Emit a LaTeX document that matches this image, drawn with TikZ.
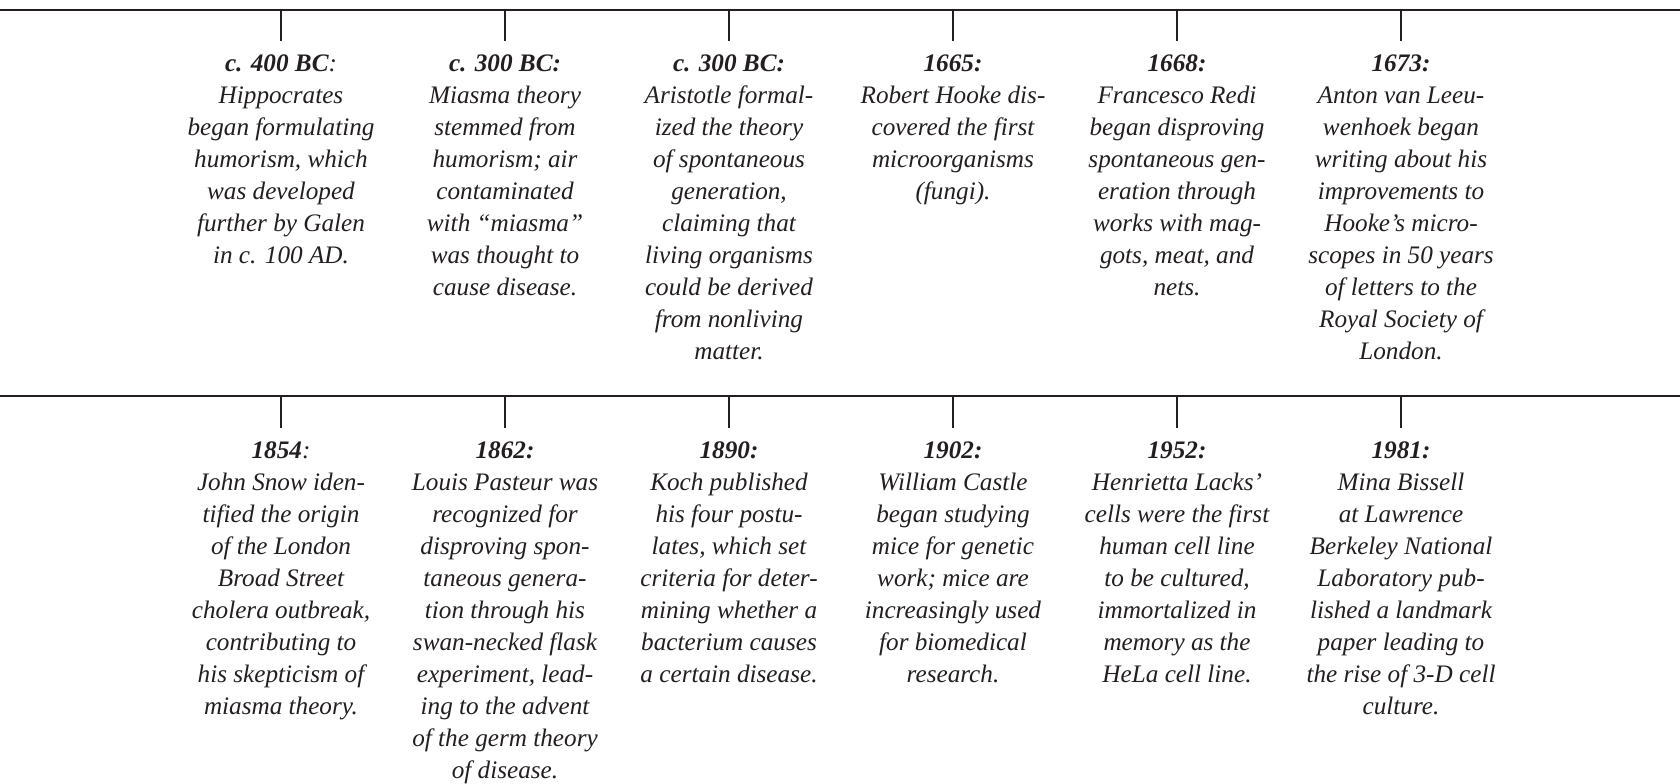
\documentclass[tikz,border=0pt]{standalone}
\usepackage{fontspec}
\setmainfont{Liberation Serif}
\definecolor{ink}{HTML}{231F20}
\newcommand{\toprule}{\rule{0pt}{9pt}}
\begin{document}
\begin{tikzpicture}[x=0.5pt,y=-0.5pt,
  rule/.style={draw=ink,line width=1.3pt},
  event/.style={anchor=north,align=center,inner sep=0pt,text=ink,
    font=\fontsize{12.6pt}{16pt}\selectfont\itshape}]
\useasboundingbox (0,0) rectangle (1680,783);
% timeline rules
\coordinate (L1) at (0,10);  \coordinate (R1) at (1680,10);
\coordinate (L2) at (0,396); \coordinate (R2) at (1680,396);
\draw[rule] (L1) -- (R1);
\draw[rule] (L2) -- (R2);
% top row (north anchor = baseline of first line minus 9pt)
\node[event] (a1) at (281,53) {\toprule\textbf{c. 400 BC}:\\Hippocrates\\began formulating\\humorism, which\\was developed\\further by Galen\\in c. 100 AD.};
\node[event] (a2) at (505,53) {\toprule\textbf{c. 300 BC:}\\Miasma theory\\stemmed from\\humorism; air\\contaminated\\with “miasma”\\was thought to\\cause disease.};
\node[event] (a3) at (729,53) {\toprule\textbf{c. 300 BC:}\\Aristotle formal-\\ized the theory\\of spontaneous\\generation,\\claiming that\\living organisms\\could be derived\\from nonliving\\matter.};
\node[event] (a4) at (953,53) {\toprule\textbf{1665:}\\Robert Hooke dis-\\covered the first\\microorganisms\\(fungi).};
\node[event] (a5) at (1177,53) {\toprule\textbf{1668:}\\Francesco Redi\\began disproving\\spontaneous gen-\\eration through\\works with mag-\\gots, meat, and\\nets.};
\node[event] (a6) at (1401,53) {\toprule\textbf{1673:}\\Anton van Leeu-\\wenhoek began\\writing about his\\improvements to\\Hooke’s micro-\\scopes in 50 years\\of letters to the\\Royal Society of\\London.};
% bottom row
\node[event] (b1) at (281,440) {\toprule\textbf{1854}:\\John Snow iden-\\tified the origin\\of the London\\Broad Street\\cholera outbreak,\\contributing to\\his skepticism of\\miasma theory.};
\node[event] (b2) at (505,440) {\toprule\textbf{1862:}\\Louis Pasteur was\\recognized for\\disproving spon-\\taneous genera-\\tion through his\\swan-necked flask\\experiment, lead-\\ing to the advent\\of the germ theory\\of disease.};
\node[event] (b3) at (729,440) {\toprule\textbf{1890:}\\Koch published\\his four postu-\\lates, which set\\criteria for deter-\\mining whether a\\bacterium causes\\a certain disease.};
\node[event] (b4) at (953,440) {\toprule\textbf{1902:}\\William Castle\\began studying\\mice for genetic\\work; mice are\\increasingly used\\for biomedical\\research.};
\node[event] (b5) at (1177,440) {\toprule\textbf{1952:}\\Henrietta Lacks’\\cells were the first\\human cell line\\to be cultured,\\immortalized in\\memory as the\\HeLa cell line.};
\node[event] (b6) at (1401,440) {\toprule\textbf{1981:}\\Mina Bissell\\at Lawrence\\Berkeley National\\Laboratory pub-\\lished a landmark\\paper leading to\\the rise of 3-D cell\\culture.};
% ticks
\foreach \n/\x in {1/281,2/505,3/729,4/953,5/1177,6/1401}{
  \coordinate (ta\n) at (\x,10);  \coordinate (tb\n) at (\x,41);
  \coordinate (ua\n) at (\x,396); \coordinate (ub\n) at (\x,428);
  \draw[rule] (ta\n) -- (tb\n);
  \draw[rule] (ua\n) -- (ub\n);
}
\end{tikzpicture}
\end{document}
